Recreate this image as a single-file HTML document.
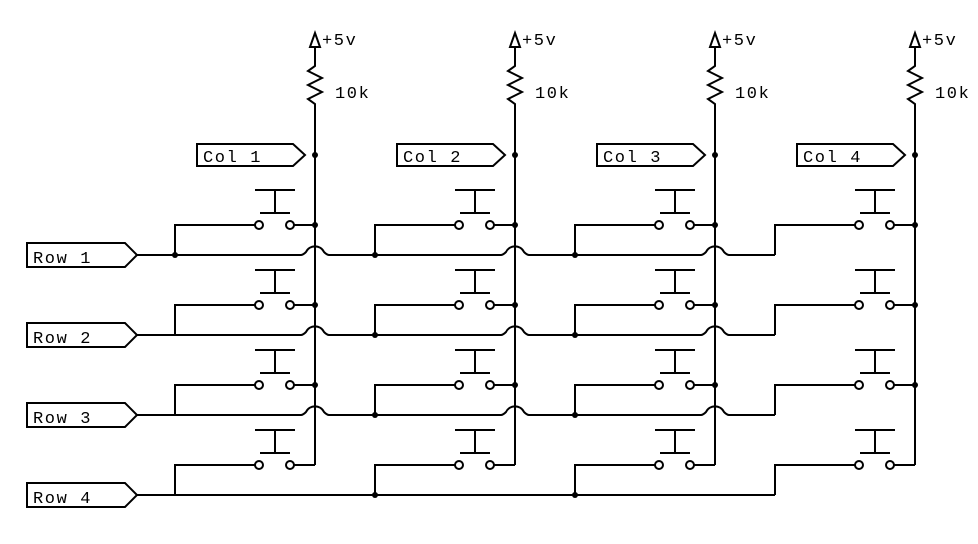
<!DOCTYPE html>
<html><head><style>
html,body{margin:0;padding:0;background:#fff;}
svg text{font-family:"Liberation Mono","DejaVu Sans Mono",monospace;font-size:17px;fill:#000;letter-spacing:1.6px;}
</style></head><body>
<svg width="978" height="539" viewBox="0 0 978 539" xmlns="http://www.w3.org/2000/svg">
<g id="all" stroke="#000" stroke-width="2" fill="none">
</g>
<script>
(function(){
var g=document.getElementById('all');var ns='http://www.w3.org/2000/svg';
function el(t,a,txt){var e=document.createElementNS(ns,t);for(var k in a)e.setAttribute(k,a[k]);if(txt!==undefined)e.textContent=txt;g.parentNode.appendChild(e);return e;}
function p(d){el('path',{d:d,stroke:'#000','stroke-width':2,fill:'none'});}
function dot(x,y){el('circle',{cx:x,cy:y,r:3,fill:'#000'});}
function circ(x,y){el('circle',{cx:x,cy:y,r:4,fill:'#fff',stroke:'#000','stroke-width':2});}
function t(x,y,s){el('text',{x:x,y:y,stroke:'none'},s);}
var rows=[255,335,415,495];
for(var k=0;k<4;k++){
 var cx=315+200*k, bx=cx-140;
 p('M'+cx+' 33 L'+(cx-5)+' 47 L'+(cx+5)+' 47 Z');
 p('M'+cx+' 47 L'+cx+' 66 L'+(cx-7)+' 71 L'+(cx+7)+' 78 L'+(cx-7)+' 85 L'+(cx+7)+' 92 L'+(cx-7)+' 99 L'+cx+' 104 L'+cx+' 465');
 t(cx+7,45,'+5v'); t(cx+20,98,'10k');
 p('M'+(cx-118)+' 144 L'+(cx-22)+' 144 L'+(cx-10)+' 155 L'+(cx-22)+' 166 L'+(cx-118)+' 166 Z');
 t(cx-112,162,'Col '+(k+1));
 dot(cx,155);
 for(var r=0;r<4;r++){
  var cy=rows[r]-30, ry=rows[r];
  p('M'+(cx-60)+' '+(cy-35)+' L'+(cx-20)+' '+(cy-35));
  p('M'+(cx-40)+' '+(cy-35)+' L'+(cx-40)+' '+(cy-12));
  p('M'+(cx-55)+' '+(cy-12)+' L'+(cx-25)+' '+(cy-12));
  p('M'+bx+' '+ry+' L'+bx+' '+cy+' L'+(cx-60)+' '+cy);
  p('M'+(cx-21)+' '+cy+' L'+cx+' '+cy);
  circ(cx-56,cy); circ(cx-25,cy);
  if(r<3) dot(cx,cy);
 }
}
for(var r=0;r<4;r++){
 var y=rows[r];
 p('M27 '+(y-12)+' L125 '+(y-12)+' L137 '+y+' L125 '+(y+12)+' L27 '+(y+12)+' Z');
 t(33,y+8,'Row '+(r+1));
 var d='M137 '+y;
 if(r<3){
  for(var k=0;k<3;k++){var cx=315+200*k;
   d+=' L'+(cx-14)+' '+y+' Q'+(cx-12)+' '+y+' '+(cx-9)+' '+(y-3)+' A10 10 0 0 1 '+(cx+9)+' '+(y-3)+' Q'+(cx+12)+' '+y+' '+(cx+14)+' '+y;}
 }
 d+=' L775 '+y;
 p(d);
 if(r==0) dot(175,y);
 dot(375,y); dot(575,y);
}
})();
</script>
</svg>
</body></html>
